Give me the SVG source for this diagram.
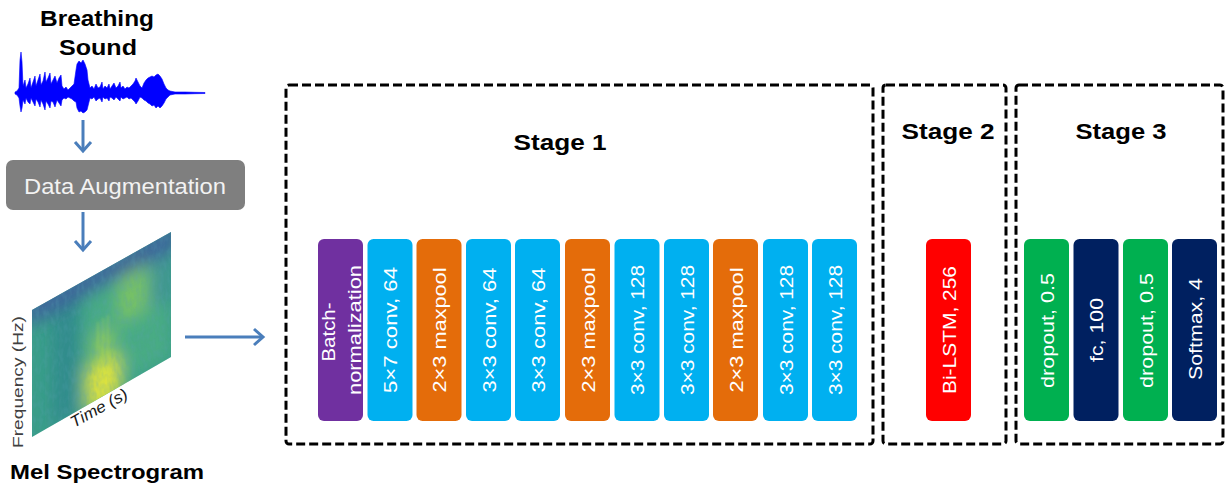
<svg xmlns="http://www.w3.org/2000/svg" width="1228" height="489" viewBox="0 0 1228 489">
<style>
.title{font-family:"Liberation Sans",Arial,sans-serif;font-weight:bold;font-size:22px;fill:#000;text-anchor:middle}
.lbl{font-family:"Liberation Sans",Arial,sans-serif;font-size:19px;fill:#fff;text-anchor:middle}
.stage{fill:none;stroke:#000;stroke-width:3;stroke-dasharray:9 4}
.blk{stroke:none}
.purple{fill:#7030a0}.cyan{fill:#00b0f0}.orange{fill:#e46c0a}.red{fill:#ff0000}.green{fill:#00b050}.navy{fill:#002060}
.arr{fill:none;stroke:#4a7ebb;stroke-width:3}
</style>
<defs>
<marker id="ah" markerUnits="userSpaceOnUse" markerWidth="20" markerHeight="20" refX="0" refY="0" viewBox="-12 -10 14 20" orient="auto">
<path d="M-9,-8 L0,0 L-9,8" fill="none" stroke="#4a7ebb" stroke-width="3"/>
</marker>
<clipPath id="specClip"><polygon points="32,310 171,232 171,357 32,437"/></clipPath>
<filter id="blur" x="-40%" y="-40%" width="180%" height="180%"><feGaussianBlur stdDeviation="8"/></filter>
<filter id="blur2" x="-30%" y="-30%" width="160%" height="160%"><feGaussianBlur stdDeviation="1.5"/></filter>
<filter id="noise" x="0" y="0" width="100%" height="100%">
<feTurbulence type="fractalNoise" baseFrequency="0.25 0.12" numOctaves="2" seed="3" result="t"/>
<feColorMatrix in="t" type="matrix" values="0 0 0 0 0.1  0 0 0 0 0.35  0 0 0 0 0.45  0 0 0 -1.6 1.0"/>
</filter>
</defs>

<g id="breathing-sound">
<text class="title" x="97" y="26" textLength="114" lengthAdjust="spacingAndGlyphs">Breathing</text>
<text class="title" x="98" y="55" textLength="78" lengthAdjust="spacingAndGlyphs">Sound</text>
<polygon fill="#0000ff" stroke="#0000ff" stroke-width="0.6" points="15,92 17,91 19,88 20,60 21,52 22,62 23,86 25,80 26,88 28,84 30,78 31,88 33,82 35,76 36,86 38,80 40,74 41,85 43,81 45,72 46,82 48,78 50,73 51,84 53,80 55,76 57,83 59,78 61,75 62,86 64,89 66,87 68,90 70,88 72,86 74,84 76,70 77,64 79,61 81,63 83,60 85,64 87,70 88,80 90,88 92,86 94,89 96,84 98,88 100,87 102,82 103,89 105,86 107,88 109,84 110,89 112,86 114,83 116,88 118,86 120,82 121,88 123,86 125,89 127,87 129,88 131,86 133,84 135,81 136,78 138,82 140,86 142,88 144,83 146,80 148,78 150,77 152,76 154,77 156,75 158,74 160,76 162,79 164,84 166,88 168,90 170,91 175,92 185,92 195,92.3 205,92.5 205,93.5 195,93.7 185,94 175,94 170,95 168,97 166,99 164,103 162,106 160,108 158,106 156,108 154,105 152,106 150,104 148,103 146,101 144,100 142,98 140,97 138,101 136,104 135,102 133,100 131,98 129,99 127,97 125,98 123,99 121,97 120,101 118,99 116,97 114,100 112,98 110,97 109,101 107,98 105,99 103,97 102,102 100,98 98,99 96,101 94,97 92,99 90,98 88,106 87,110 85,112 83,113 81,111 79,112 77,108 76,102 74,101 72,99 70,98 68,97 66,99 64,98 62,100 61,106 59,103 57,100 55,107 53,102 51,101 50,108 48,104 46,101 45,110 43,104 41,100 40,107 38,102 36,99 35,106 33,102 31,98 30,104 28,102 26,98 25,104 23,100 22,108 21,112 20,106 19,98 17,95 15,94"/>
</g>

<g id="data-augmentation">
<rect x="6" y="160" width="239" height="50" rx="7" fill="#7f7f7f"/>
<text x="125" y="194" font-family="Liberation Sans, Arial, sans-serif" font-size="22" fill="#f2f2f2" text-anchor="middle" textLength="202" lengthAdjust="spacingAndGlyphs">Data Augmentation</text>
</g>

<g id="mel-spectrogram">
<g clip-path="url(#specClip)">
<rect x="30" y="230" width="145" height="210" fill="#3a9e89"/>
<g filter="url(#blur)">
<polygon points="52,300 80,288 80,415 52,430" fill="#2a7d8e" opacity="0.55"/>
<polygon points="85,300 171,250 171,357 85,405" fill="#57b97f" opacity="0.5"/>
<polygon points="118,262 148,248 148,310 118,325" fill="#98d152" opacity="0.6"/>
<polygon points="86,368 120,352 120,398 86,414" fill="#e2e43a"/>
<polygon points="92,335 114,325 114,362 92,372" fill="#a8d64c" opacity="0.6"/>
<polygon points="150,240 171,230 171,300 150,310" fill="#3a82a0" opacity="0.5"/>
<polygon points="25,302 178,222 178,248 25,328" fill="#3e5f9c" opacity="0.9"/>
</g>
<rect x="30" y="230" width="145" height="210" filter="url(#noise)" opacity="0.35"/>
<g filter="url(#blur2)" stroke="#c8e05a" stroke-width="1.2" opacity="0.45">
<line x1="98" y1="322" x2="98" y2="400"/>
<line x1="103" y1="318" x2="103" y2="398"/>
<line x1="108" y1="315" x2="108" y2="395"/>
</g>
</g>
<text transform="translate(23,382) rotate(-90)" font-family="Liberation Sans, Arial, sans-serif" font-size="15" fill="#404040" text-anchor="middle" textLength="132" lengthAdjust="spacingAndGlyphs">Frequency (Hz)</text>
<text transform="translate(74,428) rotate(-29)" font-family="Liberation Sans, Arial, sans-serif" font-size="16" font-style="italic" fill="#1a1a1a" textLength="63" lengthAdjust="spacingAndGlyphs">Time (s)</text>
<text x="10" y="479" font-family="Liberation Sans, Arial, sans-serif" font-weight="bold" font-size="21" fill="#000" textLength="194" lengthAdjust="spacingAndGlyphs">Mel Spectrogram</text>
</g>

<g id="connectors">
<line class="arr" x1="83" y1="120" x2="83" y2="151" marker-end="url(#ah)"/>
<line class="arr" x1="83" y1="212" x2="83" y2="250" marker-end="url(#ah)"/>
<line class="arr" x1="185" y1="337" x2="263" y2="337" marker-end="url(#ah)"/>
</g>

<g id="stage1">
<rect class="stage" x="286" y="85" width="587" height="359" rx="3"/>
<text class="title" x="560" y="150" textLength="93" lengthAdjust="spacingAndGlyphs">Stage 1</text>
</g>
<g id="stage2">
<rect class="stage" x="883" y="85" width="123" height="359" rx="3"/>
<text class="title" x="948" y="139" textLength="93" lengthAdjust="spacingAndGlyphs">Stage 2</text>
</g>
<g id="stage3">
<rect class="stage" x="1016" y="85" width="207" height="359" rx="3"/>
<text class="title" x="1121" y="139" textLength="91" lengthAdjust="spacingAndGlyphs">Stage 3</text>
</g>

<g id="batchnorm">
<rect class="blk purple" x="318" y="239" width="45" height="182" rx="6"/>
<text class="lbl" transform="translate(335,332) rotate(-90)" textLength="59" lengthAdjust="spacingAndGlyphs">Batch-</text>
<text class="lbl" transform="translate(360.5,330) rotate(-90)" textLength="130" lengthAdjust="spacingAndGlyphs">normalization</text>
</g>
<g id="conv1">
<rect class="blk cyan" x="367.5" y="239" width="45" height="182" rx="6"/>
<text class="lbl" transform="translate(397,330) rotate(-90)" textLength="126" lengthAdjust="spacingAndGlyphs">5×7 conv, 64</text>
</g>
<g id="pool1">
<rect class="blk orange" x="416.5" y="239" width="45" height="182" rx="6"/>
<text class="lbl" transform="translate(446,330) rotate(-90)" textLength="125" lengthAdjust="spacingAndGlyphs">2×3 maxpool</text>
</g>
<g id="conv2">
<rect class="blk cyan" x="466" y="239" width="45" height="182" rx="6"/>
<text class="lbl" transform="translate(495.5,330) rotate(-90)" textLength="125" lengthAdjust="spacingAndGlyphs">3×3 conv, 64</text>
</g>
<g id="conv3">
<rect class="blk cyan" x="515" y="239" width="45" height="182" rx="6"/>
<text class="lbl" transform="translate(544.5,330) rotate(-90)" textLength="125" lengthAdjust="spacingAndGlyphs">3×3 conv, 64</text>
</g>
<g id="pool2">
<rect class="blk orange" x="565" y="239" width="45" height="182" rx="6"/>
<text class="lbl" transform="translate(594.5,330) rotate(-90)" textLength="125" lengthAdjust="spacingAndGlyphs">2×3 maxpool</text>
</g>
<g id="conv4">
<rect class="blk cyan" x="614.5" y="239" width="45" height="182" rx="6"/>
<text class="lbl" transform="translate(644,330) rotate(-90)" textLength="130" lengthAdjust="spacingAndGlyphs">3×3 conv, 128</text>
</g>
<g id="conv5">
<rect class="blk cyan" x="664" y="239" width="45" height="182" rx="6"/>
<text class="lbl" transform="translate(693.5,330) rotate(-90)" textLength="130" lengthAdjust="spacingAndGlyphs">3×3 conv, 128</text>
</g>
<g id="pool3">
<rect class="blk orange" x="713" y="239" width="45" height="182" rx="6"/>
<text class="lbl" transform="translate(742.5,330) rotate(-90)" textLength="125" lengthAdjust="spacingAndGlyphs">2×3 maxpool</text>
</g>
<g id="conv6">
<rect class="blk cyan" x="763" y="239" width="45" height="182" rx="6"/>
<text class="lbl" transform="translate(792.5,330) rotate(-90)" textLength="130" lengthAdjust="spacingAndGlyphs">3×3 conv, 128</text>
</g>
<g id="conv7">
<rect class="blk cyan" x="812" y="239" width="45" height="182" rx="6"/>
<text class="lbl" transform="translate(841.5,330) rotate(-90)" textLength="130" lengthAdjust="spacingAndGlyphs">3×3 conv, 128</text>
</g>

<g id="bilstm">
<rect class="blk red" x="926" y="239" width="45" height="182" rx="6"/>
<text class="lbl" transform="translate(955.5,330) rotate(-90)" textLength="128" lengthAdjust="spacingAndGlyphs">Bi-LSTM, 256</text>
</g>

<g id="dropout1">
<rect class="blk green" x="1024" y="239" width="45" height="182" rx="6"/>
<text class="lbl" transform="translate(1053.5,330.5) rotate(-90)" textLength="115" lengthAdjust="spacingAndGlyphs">dropout, 0.5</text>
</g>
<g id="fc">
<rect class="blk navy" x="1073.5" y="239" width="45" height="182" rx="6"/>
<text class="lbl" transform="translate(1103,330) rotate(-90)" textLength="64" lengthAdjust="spacingAndGlyphs">fc, 100</text>
</g>
<g id="dropout2">
<rect class="blk green" x="1123" y="239" width="45" height="182" rx="6"/>
<text class="lbl" transform="translate(1152.5,330.5) rotate(-90)" textLength="115" lengthAdjust="spacingAndGlyphs">dropout, 0.5</text>
</g>
<g id="softmax">
<rect class="blk navy" x="1172" y="239" width="45" height="182" rx="6"/>
<text class="lbl" transform="translate(1201.5,329) rotate(-90)" textLength="102" lengthAdjust="spacingAndGlyphs">Softmax, 4</text>
</g>
</svg>
